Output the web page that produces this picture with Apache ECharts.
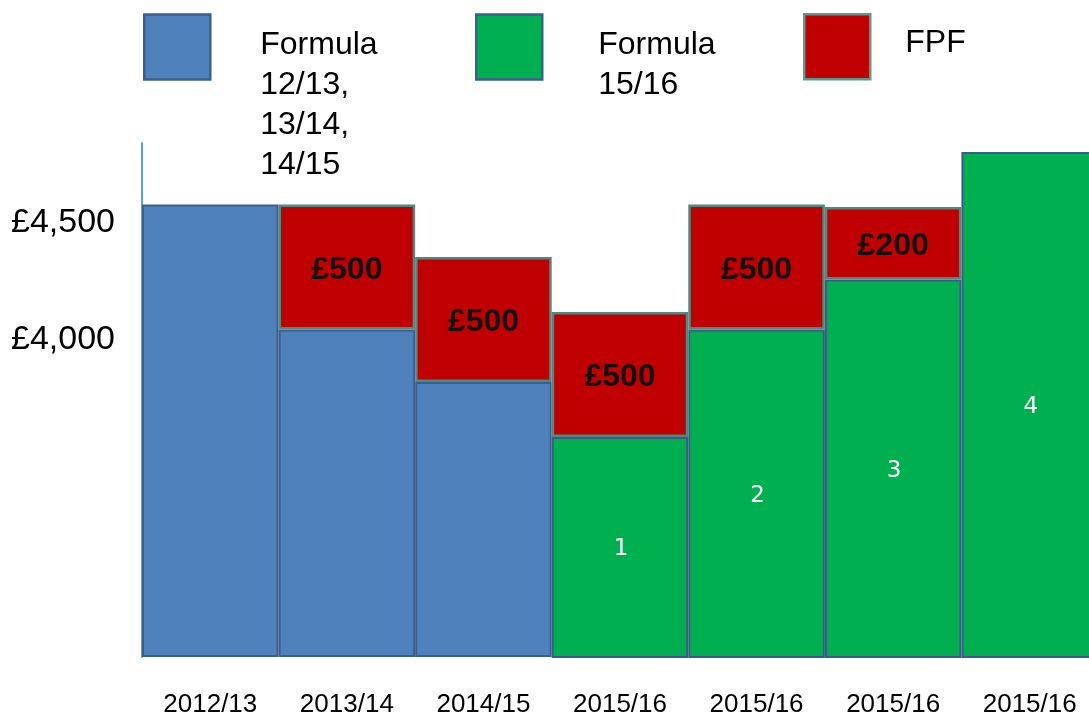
<!DOCTYPE html>
<html>
<head>
<meta charset="utf-8">
<script src="https://cdn.jsdelivr.net/npm/echarts@6/dist/echarts.min.js"></script>
<style>
html,body{margin:0;padding:0;background:#fff}
#chart{width:1089px;height:716px}
</style>
</head>
<body>
<div id="chart"></div>
<script>
// values
const categories = ['2012/13', '2013/14', '2014/15', '2015/16', '2015/16', '2015/16', '2015/16'];
const formula1213 = [4500, 4000, 3790, '-', '-', '-', '-'];
const formula1516 = ['-', '-', '-', 3570, 4000, 4200, 4710];
const fpf = ['-', 500, 500, 500, 500, 290, '-'];
const fpfLabels = ['', '£500', '£500', '£500', '£500', '£200', ''];
const greenLabels = ['', '', '', '1', '2', '3', '4'];
const legendNames = ['Formula\n12/13,\n13/14,\n14/15', 'Formula\n15/16', 'FPF'];
const yTickValues = [4000, 4500];

const FONT = '"Liberation Sans", Arial, sans-serif';
const COLORS = {
    blue: '#4f81bd', blueBorder: '#3a5f8d',
    green: '#00b050', greenBorder: '#3b5a8a',
    red: '#c00000', redBorder: '#4f8a80'
};

const chart = echarts.init(document.getElementById('chart'));

// legend text is centred on the icon by ECharts; a spacer line pushes it down so it starts at the icon top
function legendItem(name, color, border, left, top, gapTop, gapBottom, padLeft) {
    return {
        left: left, top: top, padding: 0, itemWidth: 66, itemHeight: 65, selectedMode: false,
        formatter: n => {
            let s = n.split('\n').map(l => '{t|' + l + '}').join('\n');
            if (gapTop) s = '{gt| }\n' + s;
            if (gapBottom) s = s + '\n{gb| }';
            return s;
        },
        textStyle: {
            padding: [0, 0, 0, padLeft],
            rich: {
                t: {fontFamily: FONT, fontSize: 32, lineHeight: 40, color: '#000'},
                gt: {fontSize: 2, lineHeight: gapTop},
                gb: {fontSize: 2, lineHeight: gapBottom}
            }
        },
        data: [{name: name, icon: 'rect', itemStyle: {color: color, borderColor: border, borderWidth: 2.5}}]
    };
}

chart.setOption({
    animation: false,
    backgroundColor: '#ffffff',
    legend: [
        legendItem(legendNames[0], COLORS.blue, COLORS.blueBorder, 143, -34, 117, 0, 45),
        legendItem(legendNames[1], COLORS.green, COLORS.blueBorder, 475, 6, 37, 0, 51),
        legendItem(legendNames[2], COLORS.red, '#5a9a8e', 803, 13, 0, 8, 30)
    ],
    grid: {left: 142, right: -9, top: 143, bottom: 59, containLabel: false, outerBoundsMode: 'none'},
    xAxis: {
        type: 'category', data: categories,
        axisLine: {show: false}, axisTick: {show: false},
        axisLabel: {fontFamily: FONT, fontSize: 26, color: '#000', margin: 35, interval: 0}
    },
    yAxis: [{
        // axis that carries the £ labels
        type: 'value', min: 2641, max: 4843,
        axisLine: {show: true, lineStyle: {color: '#5f9cf0', width: 2}},
        axisTick: {show: false}, splitLine: {show: false},
        axisLabel: {
            customValues: yTickValues, fontFamily: FONT, fontSize: 34, color: '#000', margin: 27,
            formatter: v => '£' + v.toLocaleString('en-GB')
        }
    }, {
        // axis the bars are drawn on
        type: 'value', show: false, min: 2690, max: 4746, startValue: 2690,
        splitLine: {show: false}
    }],
    series: [{
        name: legendNames[0], type: 'bar', stack: 'a', yAxisIndex: 1,
        data: formula1213, barCategoryGap: '0%',
        itemStyle: {color: COLORS.blue, borderColor: COLORS.blueBorder, borderWidth: 2}
    }, {
        name: legendNames[1], type: 'bar', stack: 'a', yAxisIndex: 1,
        data: formula1516, barCategoryGap: '0%',
        itemStyle: {color: COLORS.green, borderColor: COLORS.greenBorder, borderWidth: 2},
        label: {
            show: true, position: 'inside', offset: [1, 2], color: '#fff', fontFamily: '"DejaVu Sans", sans-serif', fontSize: 23,
            formatter: p => greenLabels[p.dataIndex]
        }
    }, {
        name: legendNames[2], type: 'bar', stack: 'a', yAxisIndex: 1,
        data: fpf, barCategoryGap: '0%',
        itemStyle: {color: COLORS.red, borderColor: COLORS.redBorder, borderWidth: 2.5},
        label: {
            show: true, position: 'inside', offset: [0, 3], color: '#111', fontFamily: FONT, fontSize: 32, fontWeight: 'bold',
            formatter: p => fpfLabels[p.dataIndex]
        }
    }]
});

window.addEventListener('resize', () => chart.resize());
</script>
</body>
</html>
